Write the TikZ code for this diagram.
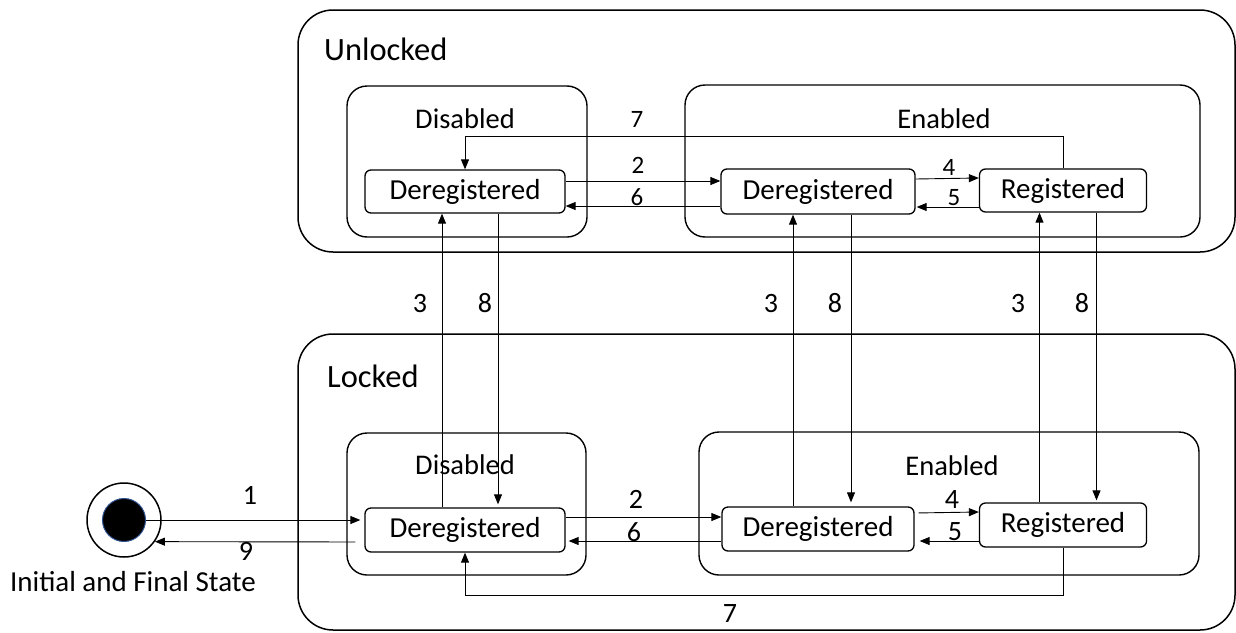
\documentclass[tikz,border=0pt]{standalone}
\usepackage{fontspec}
\setmainfont{Carlito}
\usetikzlibrary{arrows.meta}
\definecolor{ringblue}{RGB}{47,82,143}
\begin{document}
\begin{tikzpicture}[x=1pt,y=-1pt,
  container/.style={draw,line width=1.5pt,rounded corners=35pt,inner sep=0pt},
  group/.style={draw,line width=1.4pt,rounded corners=20pt,inner sep=0pt},
  state/.style={draw,line width=1.3pt,rounded corners=6pt,inner sep=0pt,font=\fontsize{29}{30}\selectfont},
  conn/.style={line width=0.9pt,-{Triangle[length=10pt,width=8pt]}},
  plain/.style={line width=0.9pt},
  lbl/.style={inner sep=0pt,anchor=base,font=\fontsize{25}{26}\selectfont},
  lblb/.style={inner sep=0pt,anchor=base,font=\fontsize{28}{30}\selectfont},
  ttl/.style={inner sep=0pt,font=\fontsize{32.5}{34}\selectfont},
  grp/.style={inner sep=0pt,anchor=base,font=\fontsize{28.5}{30}\selectfont}]
\useasboundingbox (0,0) rectangle (1236,632);

% containers
\node[container,minimum width=937pt,minimum height=242pt] (unl) at (766.5,131) {};
\node[container,minimum width=937pt,minimum height=296pt] (lck) at (766.5,482) {};
\node[ttl,anchor=base west] (tunl) at (324,60) {Unlocked};
\node[ttl,anchor=base west] (tlck) at (327,387) {Locked};

% groups
\node[group,minimum width=240pt,minimum height=151pt] (disU) at (467,161.5) {};
\node[group,minimum width=239pt,minimum height=142pt] (disL) at (466.5,504) {};
\node[group,minimum width=515pt,minimum height=152pt] (enU) at (942.5,161) {};
\node[group,minimum width=500pt,minimum height=143pt] (enL) at (949,503.5) {};
\node[grp] (tdisU) at (465,128) {Disabled};
\node[grp] (tdisL) at (465,474) {Disabled};
\node[grp] (tenU) at (944,128) {Enabled};
\node[grp] (tenL) at (952,475) {Enabled};

% states
\node[state,minimum width=200pt,minimum height=43pt] (dUL) at (465,191.5) {Deregistered};
\node[state,minimum width=200pt,minimum height=44pt] (dLL) at (465,530) {Deregistered};
\node[state,minimum width=194pt,minimum height=45pt] (dEU) at (818,191.5) {Deregistered};
\node[state,minimum width=192pt,minimum height=44pt] (dEL) at (818,529) {Deregistered};
\node[state,minimum width=167pt,minimum height=43pt] (regU) at (1063,190.5) {Registered};
\node[state,minimum width=167pt,minimum height=44pt] (regL) at (1063,525) {Registered};

% initial / final state
\node[circle,draw,line width=1.5pt,fill=white,minimum size=74pt,inner sep=0pt] (init) at (124,520) {};
\node[circle,draw=ringblue,line width=1pt,fill=black,minimum size=43pt,inner sep=0pt] (initin) at (124,520) {};
\node[inner sep=0pt,anchor=base,font=\fontsize{29}{31}\selectfont] (tinit) at (133,591) {Initial and Final State};

% connectors 1 and 9
\draw[conn,shorten >=4pt] (initin.east) -- ([yshift=10pt]dLL.west);
\draw[conn,shorten <=9pt] ([yshift=-12pt]dLL.west) -- (init.-35);

% upper horizontal connectors
\draw[conn] ([yshift=10.5pt]dUL.east) -- ([yshift=10.5pt]dEU.west);
\draw[conn] ([yshift=-14.5pt]dEU.west) -- ([yshift=-14.5pt]dUL.east);
\draw[conn] ([yshift=12.5pt]dEU.east) -- ([yshift=12.5pt]regU.west);
\draw[conn,shorten >=1pt] ([yshift=-16.5pt]regU.west) -- ([yshift=-15.5pt]dEU.east);
\draw[conn] (regU.north) -- ++(0,-32) -| (dUL.north);

% lower horizontal connectors
\draw[conn] ([yshift=13pt]dLL.east) -- ([yshift=12pt]dEL.west);
\draw[conn,shorten >=3pt] ([yshift=-12pt]dEL.west) -- ([yshift=-11pt]dLL.east);
\draw[conn,shorten <=4pt] ([yshift=16pt]dEL.east) -- ([yshift=13pt]regL.west);
\draw[conn,shorten >=5pt] ([yshift=-16pt]regL.west) -- ([yshift=-12pt]dEL.east);
\draw[conn] (regL.south) -- ++(0,48) -| (dLL.south);

% vertical connectors (3 up, 8 down)
\draw[conn] ([xshift=-23pt]dLL.north) -- ([xshift=-23pt]dUL.south);
\draw[conn,shorten >=3pt] ([xshift=33pt]dUL.south) -- ([xshift=33pt]dLL.north);
\draw[conn] ([xshift=-25pt]dEL.north) -- ([xshift=-25pt]dEU.south);
\draw[conn,shorten >=4pt] ([xshift=33pt]dEU.south) -- ([xshift=33pt]dEL.north);
\draw[conn] ([xshift=-23.5pt]regL.north) -- ([xshift=-23.5pt]regU.south);
\draw[conn,shorten >=2pt] ([xshift=33.5pt]regU.south) -- ([xshift=33.5pt]regL.north);

% labels
\node[lbl] (l7u) at (637,127) {7};
\node[lbl] (l2u) at (638,173) {2};
\node[lbl] (l6u) at (637,205) {6};
\node[lbl] (l4u) at (949,175) {4};
\node[lbl] (l5u) at (954,205) {5};
\node[lblb] (l3a) at (420,312) {3};
\node[lblb] (l8a) at (485,312) {8};
\node[lblb] (l3b) at (771,312) {3};
\node[lblb] (l8b) at (835,312) {8};
\node[lblb] (l3c) at (1018,312) {3};
\node[lblb] (l8c) at (1082,312) {8};
\node[lblb] (l1) at (250,504) {1};
\node[lblb] (l9) at (246,560) {9};
\node[lblb] (l2l) at (636,508) {2};
\node[lblb] (l6l) at (634,541) {6};
\node[lblb] (l4l) at (952,508) {4};
\node[lblb] (l5l) at (955,540) {5};
\node[lblb] (l7l) at (730,622) {7};
\end{tikzpicture}
\end{document}
